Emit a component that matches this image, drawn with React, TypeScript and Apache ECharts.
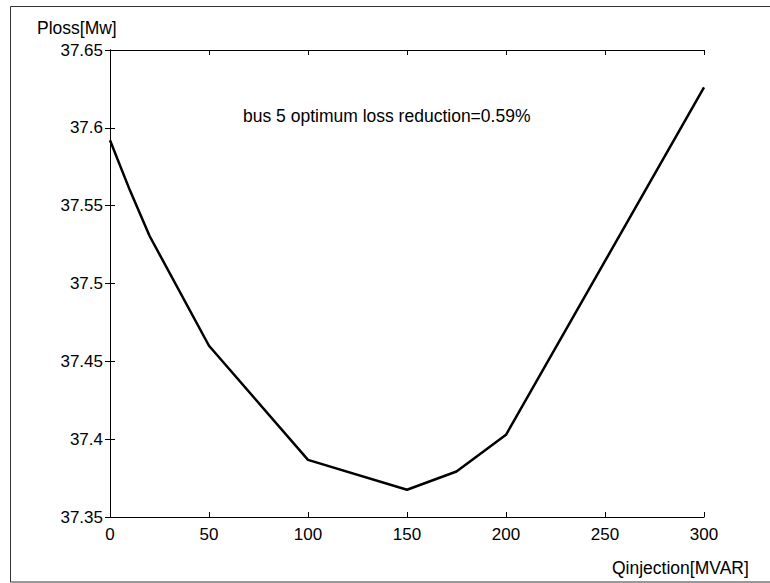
import React, { useEffect, useRef } from "react";
import * as echarts from "echarts";

const qInjection = [0, 10, 20, 50, 100, 150, 175, 200, 300];
const pLoss = [37.592, 37.56, 37.5305, 37.46, 37.3867, 37.3675, 37.3792, 37.4028, 37.626];
const xTicks = { min: 0, max: 300, interval: 50 };
const yTicks = { min: 37.35, max: 37.65, interval: 0.05 };
const yName = "Ploss[Mw]";
const xName = "Qinjection[MVAR]";
const note = "bus 5 optimum loss reduction=0.59%";

const FONT = "'Liberation Sans', Arial, Helvetica, sans-serif";

export default function App() {
  const ref = useRef<HTMLDivElement>(null);
  useEffect(() => {
    if (!ref.current) return;
    const chart = echarts.init(ref.current, undefined, { renderer: "svg" });
    const axisLine = { show: true, lineStyle: { color: "#000", width: 1 } };
    const tick = { show: true, inside: true, length: 5, lineStyle: { color: "#000", width: 1 } };
    const fmtY = (v: number) => String(+v.toFixed(2));
    chart.setOption({
      animation: false,
      backgroundColor: "#fff",
      grid: { left: 110, top: 50, right: 66, bottom: 66, containLabel: false },
      xAxis: [
        {
          type: "value",
          position: "bottom",
          min: xTicks.min,
          max: xTicks.max,
          interval: xTicks.interval,
          axisLine,
          axisTick: tick,
          splitLine: { show: false },
          axisLabel: { color: "#000", fontSize: 17, fontFamily: FONT, margin: 9 },
        },
        {
          type: "value",
          position: "top",
          min: xTicks.min,
          max: xTicks.max,
          interval: xTicks.interval,
          axisLine,
          axisTick: tick,
          splitLine: { show: false },
          axisLabel: { show: false },
        },
      ],
      yAxis: [
        {
          type: "value",
          position: "left",
          min: yTicks.min,
          max: yTicks.max,
          interval: yTicks.interval,
          axisLine,
          axisTick: tick,
          splitLine: { show: false },
          axisLabel: { color: "#000", fontSize: 17, fontFamily: FONT, margin: 7, formatter: fmtY },
        },
        {
          type: "value",
          position: "right",
          min: yTicks.min,
          max: yTicks.max,
          interval: yTicks.interval,
          axisLine,
          axisTick: tick,
          splitLine: { show: false },
          axisLabel: { show: false },
        },
      ],
      series: [
        {
          type: "line",
          data: qInjection.map((q, i) => [q, pLoss[i]]),
          showSymbol: false,
          symbol: "none",
          lineStyle: { color: "#000", width: 2.5 },
          xAxisIndex: 0,
          yAxisIndex: 0,
        },
      ],
      graphic: [
        {
          type: "rect",
          shape: { x: 10.5, y: 6.5, width: 800, height: 575.5 },
          style: { fill: "none", stroke: "#333", lineWidth: 1 },
          silent: true,
        },
        {
          type: "text",
          x: 37,
          y: 28,
          style: { text: yName, fontSize: 17.5, fontFamily: FONT, fill: "#000", textVerticalAlign: "middle", verticalAlign: "middle" },
        },
        {
          type: "text",
          x: 612,
          y: 568,
          style: { text: xName, fontSize: 17.5, fontFamily: FONT, fill: "#000", verticalAlign: "middle" },
        },
        {
          type: "text",
          x: 243,
          y: 116,
          style: { text: note, fontSize: 17.5, fontFamily: FONT, fill: "#000", verticalAlign: "middle" },
        },
      ],
    });
    return () => chart.dispose();
  }, []);
  return (
    <div
      ref={ref}
      style={{ position: "absolute", left: 0, top: 0, width: 770, height: 583, background: "#fff" }}
    />
  );
}
